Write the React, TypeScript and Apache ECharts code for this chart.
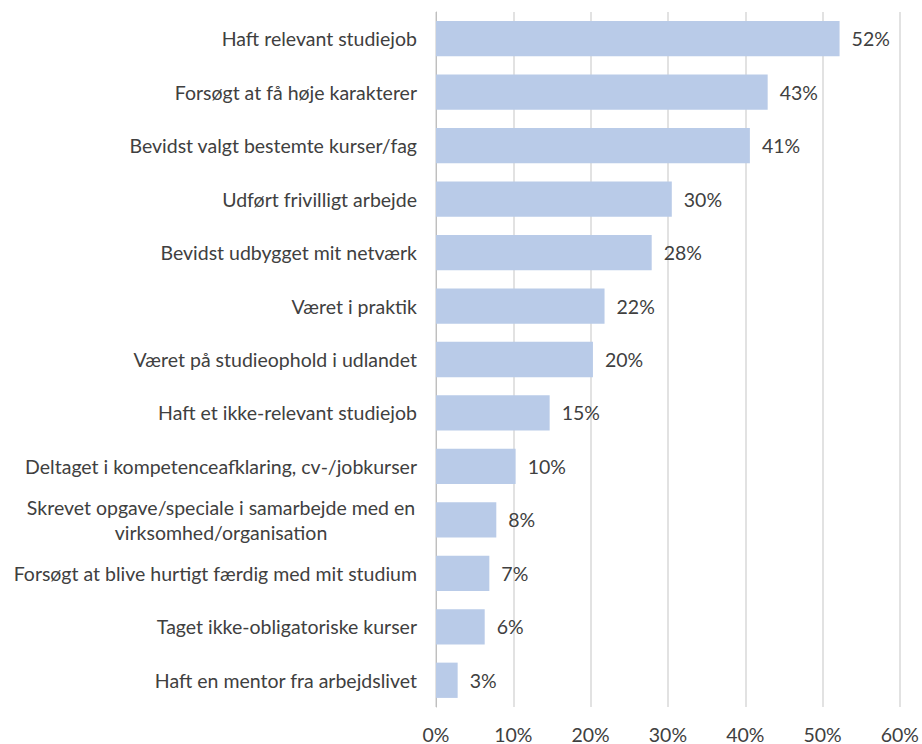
import React, { useEffect, useRef } from "react";
import * as echarts from "echarts";

const categories: string[] = [
  "Haft relevant studiejob",
  "Forsøgt at få høje karakterer",
  "Bevidst valgt bestemte kurser/fag",
  "Udført frivilligt arbejde",
  "Bevidst udbygget mit netværk",
  "Været i praktik",
  "Været på studieophold i udlandet",
  "Haft et ikke-relevant studiejob",
  "Deltaget i kompetenceafklaring, cv-/jobkurser",
  "Skrevet opgave/speciale i samarbejde med en\nvirksomhed/organisation",
  "Forsøgt at blive hurtigt færdig med mit studium",
  "Taget ikke-obligatoriske kurser",
  "Haft en mentor fra arbejdslivet",
];

const values: number[] = [52.2, 42.9, 40.6, 30.5, 27.9, 21.8, 20.3, 14.7, 10.3, 7.8, 6.9, 6.3, 2.8];
const labels: string[] = ["52%", "43%", "41%", "30%", "28%", "22%", "20%", "15%", "10%", "8%", "7%", "6%", "3%"];

const FONT = "Lato, 'Open Sans', sans-serif";
const TEXT = "#404040";
const FS = 19.5;

export default function App() {
  const ref = useRef<HTMLDivElement>(null);
  useEffect(() => {
    if (!ref.current) return;
    const chart = echarts.init(ref.current, undefined, { renderer: "svg" });
    chart.setOption({
      animation: false,
      backgroundColor: "#ffffff",
      textStyle: { fontFamily: FONT },
      grid: { left: 436, right: 20, top: 12, bottom: 36, containLabel: false },
      xAxis: {
        type: "value",
        min: 0,
        max: 60,
        interval: 10,
        axisLine: { show: false },
        axisTick: { show: false },
        splitLine: { show: true, lineStyle: { color: "#D9D9D9", width: 1.5 } },
        axisLabel: {
          formatter: (v: number) => `${v}%`,
          color: TEXT,
          fontSize: FS,
          fontFamily: FONT,
          margin: 17,
        },
      },
      yAxis: {
        type: "category",
        data: categories,
        inverse: true,
        axisLine: { show: true, lineStyle: { color: "#BFBFBF", width: 1 } },
        axisTick: { show: false },
        axisLabel: {
          color: TEXT,
          fontSize: FS,
          fontFamily: FONT,
          margin: 19,
          lineHeight: 25,
          formatter: (v: string) => {
            if (v.indexOf("\n") >= 0) {
              return v
                .split("\n")
                .map((l) => `{c|${l}}`)
                .join("\n");
            }
            return v;
          },
          rich: {
            c: {
              width: 392,
              align: "center",
              color: TEXT,
              fontSize: FS,
              fontFamily: FONT,
              lineHeight: 25,
            },
          },
        },
      },
      series: [
        {
          type: "bar",
          data: values,
          barCategoryGap: "34%",
          itemStyle: { color: "#B9CBE8" },
          label: {
            show: true,
            position: "right",
            distance: 12,
            color: TEXT,
            fontSize: FS,
            fontFamily: FONT,
            formatter: (p: any) => labels[p.dataIndex],
          },
        },
      ],
    });
    return () => chart.dispose();
  }, []);
  return (
    <div
      ref={ref}
      style={{ position: "fixed", left: 0, top: 0, width: 922, height: 744 }}
    />
  );
}
